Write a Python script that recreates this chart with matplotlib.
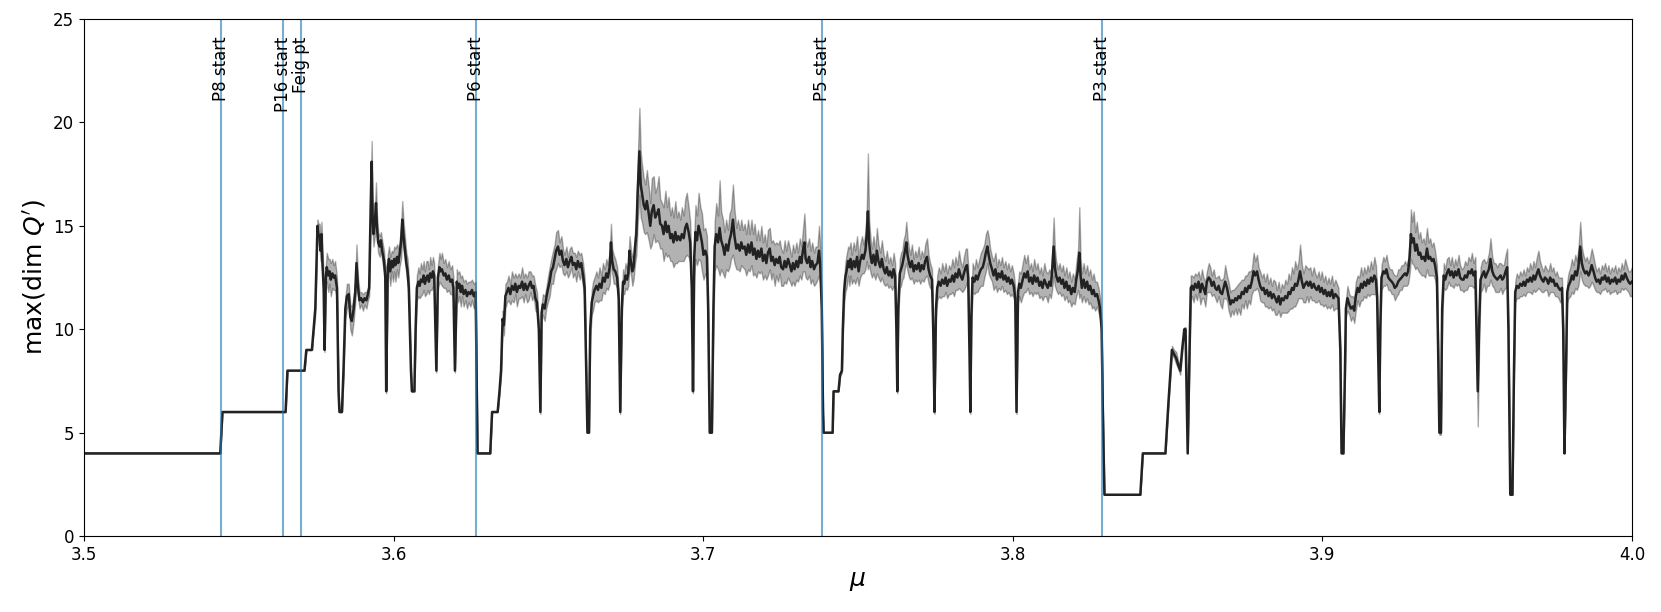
import numpy as np
import matplotlib.pyplot as plt

# - marker lines (window / bifurcation starts)
line_mu = [3.5441, 3.5644, 3.56995, 3.6266, 3.7385, 3.8288]
line_labels = ["P8 start", "P16 start", "Feig pt", "P6 start", "P5 start", "P3 start"]

# - periodic regime before chaos
ord_mu = [3.500, 3.5440, 3.5447, 3.5651, 3.5657, 3.5712, 3.5718, 3.5736]
ord_mean = [4, 4, 6, 6, 8, 8, 9, 9]
ord_sd = [0, 0, 0, 0, 0, 0, 0, 0]

# - first chaotic band, up to the P6 window
ch1_mu = [3.5747, 3.5754, 3.5757, 3.5761, 3.5764, 3.5767, 3.5770, 3.5774, 3.5777, 3.5781,
          3.5784, 3.5789, 3.5793, 3.5797, 3.5802, 3.5806, 3.5811, 3.5817, 3.5822, 3.5825,
          3.5833, 3.5838, 3.5844, 3.5849, 3.5855, 3.5860, 3.5865, 3.5871, 3.5876, 3.5880,
          3.5885, 3.5890, 3.5895, 3.5901, 3.5906, 3.5912, 3.5917, 3.5921, 3.5926, 3.5929,
          3.5932, 3.5935, 3.5940, 3.5943, 3.5946, 3.5950, 3.5955, 3.5959, 3.5963, 3.5969,
          3.5973, 3.5976, 3.5981, 3.5985, 3.5989, 3.5994, 3.5998, 3.6002, 3.6006, 3.6011,
          3.6015, 3.6019, 3.6024, 3.6028, 3.6032, 3.6037, 3.6041, 3.6045, 3.6049, 3.6056,
          3.6059, 3.6067, 3.6071, 3.6075, 3.6080, 3.6084, 3.6088, 3.6093, 3.6097, 3.6101,
          3.6106, 3.6110, 3.6114, 3.6118, 3.6123, 3.6127, 3.6131, 3.6138, 3.6143, 3.6148,
          3.6152, 3.6156, 3.6162, 3.6167, 3.6172, 3.6178, 3.6183, 3.6189, 3.6193, 3.6198,
          3.6204, 3.6208, 3.6212, 3.6217, 3.6221, 3.6226, 3.6232, 3.6237, 3.6242, 3.6248,
          3.6253, 3.6259, 3.6265]
ch1_mean = [11.0, 15.0, 14.6, 14.5, 13.8, 14.6, 13.2, 12.0, 9.0, 12.5,
            13.0, 12.6, 12.8, 12.4, 12.7, 12.5, 12.6, 12.0, 7.0, 6.0,
            6.0, 8.0, 11.0, 11.6, 11.7, 10.6, 10.4, 11.0, 11.8, 13.2,
            12.0, 11.4, 11.5, 11.3, 11.5, 11.4, 11.7, 12.0, 16.0, 18.1,
            15.5, 14.6, 15.3, 16.1, 15.0, 14.2, 14.0, 14.3, 13.8, 13.3,
            12.5, 7.0, 13.0, 13.4, 12.8, 13.3, 13.0, 13.4, 13.1, 13.5,
            13.2, 13.6, 14.2, 15.3, 14.5, 13.8, 13.2, 12.8, 12.0, 8.0,
            7.0, 7.0, 10.0, 12.0, 12.3, 12.1, 12.4, 12.3, 12.6, 12.2,
            12.5, 12.6, 12.3, 12.7, 12.5, 12.8, 12.6, 8.0, 12.5, 13.0,
            12.8, 12.9, 12.6, 12.7, 12.4, 12.6, 12.3, 12.4, 12.0, 8.0,
            12.3, 12.0, 12.2, 11.8, 12.1, 11.7, 11.9, 11.6, 11.8, 11.7,
            11.9, 11.6, 11.8]
ch1_sd = [0.3, 0.3, 0.5, 0.6, 0.5, 0.6, 0.7, 0.6, 0.1, 0.6,
          0.7, 0.8, 0.6, 0.8, 0.7, 0.6, 0.7, 0.5, 0.2, 0.0,
          0.0, 0.3, 0.5, 0.6, 0.5, 0.6, 0.7, 0.6, 0.5, 0.9,
          0.5, 0.4, 0.3, 0.4, 0.3, 0.4, 0.3, 0.4, 0.8, 1.0,
          0.8, 0.6, 0.7, 1.0, 0.6, 0.5, 0.5, 0.4, 0.5, 0.5,
          0.4, 0.1, 0.6, 0.6, 0.7, 0.5, 0.7, 0.6, 0.8, 0.6,
          0.7, 0.6, 0.8, 0.9, 0.7, 0.6, 0.5, 0.6, 0.5, 0.2,
          0.0, 0.0, 0.3, 0.6, 0.7, 0.6, 0.8, 0.6, 0.7, 0.6,
          0.8, 0.7, 0.6, 0.8, 0.6, 0.7, 0.6, 0.1, 0.6, 0.7,
          0.6, 0.8, 0.6, 0.7, 0.6, 0.7, 0.6, 0.7, 0.5, 0.1,
          0.6, 0.7, 0.6, 0.7, 0.5, 0.6, 0.5, 0.6, 0.5, 0.6,
          0.5, 0.6, 0.5]

# - P6 window and following chaos
p6_mu = [3.6271, 3.6312, 3.6318, 3.6336, 3.6342, 3.6347, 3.6352, 3.6356, 3.6361, 3.6366,
         3.6371, 3.6377, 3.6382, 3.6388, 3.6393, 3.6398, 3.6404, 3.6409, 3.6415, 3.6420,
         3.6425, 3.6431, 3.6436, 3.6442, 3.6447, 3.6452, 3.6458, 3.6463, 3.6469, 3.6474,
         3.6478, 3.6482, 3.6488, 3.6493, 3.6498, 3.6504, 3.6509, 3.6515, 3.6520, 3.6525,
         3.6531, 3.6536, 3.6542, 3.6547, 3.6552, 3.6558, 3.6563, 3.6569, 3.6574, 3.6579,
         3.6585, 3.6590, 3.6595, 3.6601, 3.6606, 3.6612, 3.6617, 3.6622, 3.6626, 3.6631,
         3.6635, 3.6640, 3.6644, 3.6649, 3.6655, 3.6660, 3.6665, 3.6671, 3.6676, 3.6682,
         3.6687, 3.6692, 3.6698, 3.6702, 3.6706, 3.6711, 3.6716, 3.6722, 3.6727, 3.6732,
         3.6737, 3.6741, 3.6745, 3.6749, 3.6754, 3.6758, 3.6762, 3.6767, 3.6771, 3.6775,
         3.6780, 3.6784, 3.6788, 3.6794, 3.6798, 3.6802, 3.6808, 3.6813, 3.6818, 3.6824,
         3.6829, 3.6834, 3.6840, 3.6845, 3.6851, 3.6856, 3.6861, 3.6867, 3.6872, 3.6878,
         3.6883, 3.6888, 3.6894, 3.6899, 3.6904, 3.6910, 3.6915, 3.6920, 3.6926, 3.6931,
         3.6937, 3.6942, 3.6947, 3.6953, 3.6958, 3.6963, 3.6967, 3.6971, 3.6975, 3.6980,
         3.6985, 3.6991, 3.6996, 3.7001, 3.7007, 3.7012, 3.7016, 3.7021, 3.7028, 3.7033,
         3.7037, 3.7042, 3.7048, 3.7053, 3.7058, 3.7064, 3.7069, 3.7074, 3.7080, 3.7085,
         3.7090, 3.7096, 3.7101, 3.7107, 3.7112, 3.7118, 3.7123, 3.7128, 3.7134, 3.7139,
         3.7145, 3.7150, 3.7156, 3.7161, 3.7166, 3.7172, 3.7177, 3.7182, 3.7188, 3.7193,
         3.7199, 3.7204, 3.7209, 3.7215, 3.7220, 3.7225, 3.7231, 3.7236, 3.7242, 3.7247,
         3.7252, 3.7258, 3.7263, 3.7268, 3.7274, 3.7280, 3.7285, 3.7290, 3.7295, 3.7301,
         3.7306, 3.7312, 3.7317, 3.7322, 3.7327, 3.7331, 3.7336, 3.7342, 3.7347, 3.7352,
         3.7358, 3.7363, 3.7369, 3.7374, 3.7378, 3.7383, 3.7387]
p6_mean = [4.0, 4.0, 6.0, 6.0, 7.0, 8.0, 10.5, 10.2, 11.6, 11.8,
           12.0, 11.7, 12.1, 11.9, 12.2, 11.8, 12.1, 12.0, 12.3, 11.9,
           12.2, 11.9, 12.1, 12.3, 12.0, 12.1, 11.5, 11.3, 10.0, 6.0,
           10.8, 11.2, 11.0, 11.5, 11.9, 12.3, 12.8, 13.0, 13.4, 13.8,
           14.0, 13.6, 13.8, 13.3, 13.1, 13.4, 13.0, 13.3, 13.5, 13.1,
           13.2, 12.9, 13.3, 13.0, 13.2, 12.6, 12.0, 8.0, 5.0, 5.0,
           10.0, 11.3, 11.6, 11.9, 12.1, 11.9, 12.2, 12.0, 12.5, 12.3,
           12.7, 12.5, 13.0, 14.2, 13.3, 12.9, 12.8, 12.5, 11.5, 6.0,
           11.0, 12.3, 12.2, 12.6, 12.4, 12.7, 13.8, 13.2, 12.8, 13.0,
           14.0, 14.6, 16.5, 18.6, 17.0, 16.6, 16.0, 15.8, 16.2, 15.6,
           15.0, 15.7, 16.0, 15.4, 15.6, 15.8, 15.1, 15.0, 14.6, 15.2,
           14.7, 15.0, 14.4, 14.6, 14.2, 14.7, 14.3, 14.5, 14.3, 14.6,
           14.4, 14.9, 15.1, 14.7, 14.2, 12.0, 7.0, 13.5, 14.7, 14.3,
           15.0, 14.6, 14.2, 13.6, 13.8, 13.5, 11.0, 5.0, 5.0, 11.0,
           14.0, 14.6, 14.2, 14.9, 14.3, 14.0, 13.6, 14.1, 13.8, 14.3,
           14.6, 15.3, 14.5, 13.9, 14.1, 13.8, 14.2, 13.9, 14.0, 13.6,
           14.1, 13.7, 14.2, 13.6, 13.9, 13.4, 13.8, 13.5, 13.9, 13.3,
           13.6, 13.2, 13.7, 13.9, 13.3, 13.5, 13.1, 13.4, 13.2, 13.5,
           13.0, 12.9, 13.3, 13.0, 13.4, 13.1, 12.8, 13.2, 12.9, 13.3,
           13.0, 13.5, 13.2, 13.8, 14.2, 13.4, 13.2, 13.5, 13.0, 13.3,
           12.9, 13.1, 13.2, 13.8, 13.1, 11.0, 6.0]
p6_sd = [0, 0, 0, 0, 0.1, 0.2, 0.4, 0.5, 0.6, 0.5,
         0.6, 0.5, 0.7, 0.6, 0.5, 0.7, 0.6, 0.5, 0.7, 0.6,
         0.5, 0.6, 0.7, 0.5, 0.6, 0.5, 0.6, 0.5, 0.3, 0.1,
         0.4, 0.5, 0.6, 0.5, 0.6, 0.7, 0.6, 0.8, 0.7, 0.9,
         0.8, 0.6, 0.7, 0.6, 0.5, 0.6, 0.5, 0.6, 0.5, 0.6,
         0.5, 0.6, 0.5, 0.6, 0.5, 0.6, 0.5, 0.2, 0.0, 0.0,
         0.4, 0.6, 0.7, 0.6, 0.7, 0.6, 0.8, 0.6, 0.7, 0.6,
         0.7, 0.6, 0.8, 0.9, 0.6, 0.7, 0.6, 0.5, 0.4, 0.1,
         0.5, 0.6, 0.5, 0.6, 0.5, 0.6, 0.7, 0.6, 0.7, 0.6,
         0.8, 1.0, 1.5, 2.1, 1.6, 1.4, 1.3, 1.2, 1.5, 1.3,
         1.1, 1.6, 1.4, 1.2, 1.3, 1.6, 1.2, 1.1, 1.3, 1.5,
         1.2, 1.4, 1.1, 1.3, 1.2, 1.5, 1.1, 1.2, 1.0, 1.3,
         1.1, 1.4, 1.5, 1.2, 1.0, 0.5, 0.1, 1.0, 1.3, 1.2,
         1.6, 1.3, 1.4, 1.2, 1.1, 1.0, 0.5, 0.0, 0.0, 0.6,
         1.2, 1.5, 1.3, 2.3, 1.4, 1.3, 1.1, 1.2, 1.0, 1.3,
         1.2, 1.7, 1.3, 1.0, 1.2, 1.0, 1.1, 0.9, 1.1, 1.0,
         1.2, 0.9, 1.1, 1.0, 1.2, 0.9, 1.0, 0.8, 1.1, 0.9,
         1.0, 0.8, 1.1, 1.0, 0.9, 0.8, 1.0, 0.8, 0.9, 0.8,
         0.9, 0.8, 1.0, 0.8, 0.9, 0.8, 0.7, 0.9, 0.8, 0.9,
         0.7, 0.9, 0.8, 1.0, 1.4, 0.9, 0.8, 0.9, 0.8, 0.9,
         0.8, 0.9, 0.8, 1.2, 0.9, 0.5, 0.2]

# - P5 window and following chaos
p5_mu = [3.7389, 3.7418, 3.7421, 3.7437, 3.7442, 3.7448, 3.7451, 3.7455, 3.7459, 3.7463,
         3.7468, 3.7472, 3.7476, 3.7480, 3.7486, 3.7491, 3.7497, 3.7502, 3.7507, 3.7513,
         3.7518, 3.7524, 3.7528, 3.7532, 3.7536, 3.7541, 3.7545, 3.7550, 3.7556, 3.7561,
         3.7566, 3.7572, 3.7577, 3.7583, 3.7588, 3.7593, 3.7599, 3.7604, 3.7610, 3.7615,
         3.7620, 3.7624, 3.7627, 3.7630, 3.7635, 3.7639, 3.7643, 3.7647, 3.7652, 3.7656,
         3.7660, 3.7665, 3.7669, 3.7674, 3.7680, 3.7685, 3.7690, 3.7696, 3.7701, 3.7706,
         3.7712, 3.7717, 3.7723, 3.7728, 3.7733, 3.7739, 3.7743, 3.7747, 3.7752, 3.7756,
         3.7761, 3.7767, 3.7772, 3.7778, 3.7783, 3.7788, 3.7794, 3.7799, 3.7805, 3.7810,
         3.7815, 3.7821, 3.7826, 3.7831, 3.7837, 3.7842, 3.7848, 3.7852, 3.7856, 3.7860,
         3.7863, 3.7866, 3.7870, 3.7876, 3.7881, 3.7886, 3.7892, 3.7897, 3.7903, 3.7908,
         3.7913, 3.7918, 3.7922, 3.7927, 3.7933, 3.7938, 3.7944, 3.7949, 3.7954, 3.7960,
         3.7965, 3.7970, 3.7976, 3.7981, 3.7986, 3.7992, 3.7997, 3.8003, 3.8008, 3.8012,
         3.8017, 3.8021, 3.8026, 3.8032, 3.8037, 3.8042, 3.8048, 3.8053, 3.8059, 3.8064,
         3.8069, 3.8075, 3.8080, 3.8086, 3.8091, 3.8096, 3.8102, 3.8107, 3.8113, 3.8118,
         3.8123, 3.8127, 3.8132, 3.8136, 3.8140, 3.8146, 3.8151, 3.8157, 3.8162, 3.8167,
         3.8173, 3.8178, 3.8183, 3.8189, 3.8194, 3.8200, 3.8205, 3.8211, 3.8215, 3.8219,
         3.8223, 3.8229, 3.8234, 3.8240, 3.8245, 3.8250, 3.8256, 3.8261, 3.8266, 3.8272,
         3.8277, 3.8282, 3.8287, 3.8291]
p5_mean = [5.0, 5.0, 7.0, 7.0, 7.8, 8.0, 10.0, 11.8, 12.5, 12.8,
           13.3, 13.0, 13.4, 12.9, 13.3, 13.0, 13.5, 12.8, 13.3, 13.6,
           13.4, 13.8, 14.5, 15.7, 14.2, 13.5, 13.2, 13.6, 13.1, 13.8,
           13.3, 13.0, 13.4, 12.9, 12.7, 13.0, 12.6, 12.8, 12.5, 12.9,
           12.6, 10.0, 7.0, 11.0, 12.7, 12.9, 13.1, 13.4, 13.8, 14.2,
           13.6, 13.2, 13.0, 13.3, 12.8, 13.1, 12.9, 13.2, 12.8, 13.1,
           12.9, 13.3, 13.5, 12.9, 12.6, 12.4, 10.0, 6.0, 11.0, 12.0,
           12.3, 12.1, 12.4, 12.2, 12.5, 12.1, 12.4, 12.3, 12.6, 12.3,
           12.7, 12.5, 12.9, 12.6, 12.4, 12.7, 13.0, 13.1, 12.5, 9.0,
           6.0, 10.5, 12.5, 12.3, 12.6, 12.4, 12.7, 12.9, 13.0, 13.3,
           13.7, 14.0, 13.6, 13.2, 12.9, 12.6, 12.9, 12.4, 12.7, 12.5,
           12.8, 12.4, 12.6, 12.3, 12.5, 12.2, 12.4, 12.1, 11.5, 6.0,
           11.8, 12.2, 12.0, 12.4, 12.7, 12.5, 12.8, 12.3, 12.5, 12.2,
           12.6, 12.3, 12.5, 12.1, 12.3, 12.0, 12.4, 12.2, 12.0, 12.3,
           12.1, 12.8, 14.0, 13.0, 12.6, 12.3, 12.5, 12.2, 12.4, 12.0,
           12.3, 11.9, 12.1, 11.7, 12.0, 11.8, 12.4, 12.9, 13.7, 12.6,
           12.0, 12.4, 12.0, 12.3, 11.9, 12.1, 11.7, 11.9, 11.6, 11.7,
           11.4, 11.0, 10.0, 6.0]
p5_sd = [0, 0, 0, 0, 0.1, 0.1, 0.3, 0.6, 0.7, 0.8,
         0.7, 0.9, 0.8, 0.7, 0.9, 0.8, 1.0, 0.7, 0.8, 0.9,
         0.7, 0.9, 1.2, 2.8, 1.1, 0.8, 0.7, 0.9, 0.7, 1.1,
         0.8, 0.7, 0.9, 0.7, 0.6, 0.8, 0.6, 0.7, 0.6, 0.8,
         0.6, 0.3, 0.1, 0.4, 0.7, 0.8, 0.7, 0.9, 0.8, 1.0,
         0.8, 0.7, 0.6, 0.8, 0.6, 0.7, 0.6, 0.8, 0.6, 0.7,
         0.6, 0.8, 0.9, 0.7, 0.6, 0.5, 0.3, 0.1, 0.4, 0.6,
         0.7, 0.6, 0.8, 0.6, 0.7, 0.6, 0.7, 0.6, 0.8, 0.7,
         0.8, 0.6, 0.9, 0.7, 0.6, 0.8, 0.9, 0.8, 0.6, 0.3,
         0.1, 0.4, 0.7, 0.6, 0.8, 0.6, 0.7, 0.8, 0.9, 0.8,
         0.9, 0.8, 0.9, 0.7, 0.6, 0.7, 0.8, 0.6, 0.7, 0.6,
         0.7, 0.6, 0.7, 0.6, 0.7, 0.6, 0.7, 0.6, 0.5, 0.1,
         0.5, 0.6, 0.7, 0.8, 0.9, 0.7, 0.8, 0.6, 0.7, 0.6,
         0.8, 0.6, 0.7, 0.6, 0.7, 0.6, 0.8, 0.6, 0.7, 0.6,
         0.6, 0.9, 1.4, 0.9, 0.7, 0.6, 0.7, 0.6, 0.7, 0.6,
         0.7, 0.6, 0.7, 0.6, 0.7, 0.6, 0.8, 1.0, 2.2, 0.9,
         0.7, 0.8, 0.7, 0.8, 0.7, 0.8, 0.7, 0.8, 0.7, 0.6,
         0.6, 0.5, 0.3, 0.1]

# - P3 window and the rest up to mu = 4
p3_mu = [3.8296, 3.8412, 3.8420, 3.8493, 3.8503, 3.8514, 3.8521, 3.8528, 3.8534, 3.8541,
         3.8547, 3.8554, 3.8558, 3.8565, 3.8571, 3.8575, 3.8579, 3.8584, 3.8589, 3.8595,
         3.8600, 3.8606, 3.8611, 3.8616, 3.8622, 3.8627, 3.8633, 3.8638, 3.8643, 3.8649,
         3.8654, 3.8659, 3.8665, 3.8670, 3.8676, 3.8681, 3.8686, 3.8692, 3.8697, 3.8703,
         3.8708, 3.8713, 3.8719, 3.8724, 3.8729, 3.8735, 3.8740, 3.8746, 3.8751, 3.8756,
         3.8762, 3.8767, 3.8772, 3.8778, 3.8783, 3.8789, 3.8794, 3.8799, 3.8805, 3.8810,
         3.8815, 3.8821, 3.8826, 3.8832, 3.8837, 3.8842, 3.8848, 3.8853, 3.8859, 3.8864,
         3.8869, 3.8875, 3.8880, 3.8886, 3.8891, 3.8896, 3.8902, 3.8907, 3.8912, 3.8918,
         3.8923, 3.8928, 3.8934, 3.8939, 3.8945, 3.8950, 3.8955, 3.8961, 3.8966, 3.8972,
         3.8977, 3.8982, 3.8988, 3.8993, 3.8998, 3.9004, 3.9009, 3.9015, 3.9020, 3.9025,
         3.9031, 3.9036, 3.9042, 3.9047, 3.9052, 3.9058, 3.9062, 3.9068, 3.9073, 3.9076,
         3.9081, 3.9087, 3.9092, 3.9098, 3.9103, 3.9108, 3.9114, 3.9119, 3.9125, 3.9130,
         3.9135, 3.9141, 3.9146, 3.9151, 3.9157, 3.9162, 3.9168, 3.9173, 3.9177, 3.9180,
         3.9184, 3.9187, 3.9191, 3.9197, 3.9202, 3.9207, 3.9213, 3.9218, 3.9224, 3.9229,
         3.9234, 3.9240, 3.9245, 3.9250, 3.9256, 3.9261, 3.9267, 3.9272, 3.9277, 3.9282,
         3.9286, 3.9290, 3.9295, 3.9300, 3.9305, 3.9311, 3.9316, 3.9321, 3.9327, 3.9332,
         3.9338, 3.9343, 3.9348, 3.9354, 3.9359, 3.9364, 3.9370, 3.9374, 3.9378, 3.9383,
         3.9387, 3.9392, 3.9397, 3.9402, 3.9408, 3.9413, 3.9418, 3.9424, 3.9429, 3.9434,
         3.9440, 3.9445, 3.9451, 3.9456, 3.9461, 3.9467, 3.9472, 3.9478, 3.9483, 3.9488,
         3.9494, 3.9498, 3.9502, 3.9507, 3.9511, 3.9516, 3.9522, 3.9527, 3.9532, 3.9538,
         3.9543, 3.9549, 3.9554, 3.9559, 3.9565, 3.9570, 3.9576, 3.9581, 3.9586, 3.9592,
         3.9597, 3.9601, 3.9607, 3.9614, 3.9619, 3.9623, 3.9628, 3.9634, 3.9639, 3.9645,
         3.9650, 3.9655, 3.9661, 3.9666, 3.9671, 3.9677, 3.9682, 3.9687, 3.9693, 3.9698,
         3.9703, 3.9709, 3.9714, 3.9719, 3.9725, 3.9730, 3.9736, 3.9741, 3.9746, 3.9752,
         3.9757, 3.9763, 3.9768, 3.9774, 3.9778, 3.9782, 3.9787, 3.9791, 3.9795, 3.9801,
         3.9806, 3.9811, 3.9817, 3.9822, 3.9827, 3.9833, 3.9838, 3.9843, 3.9849, 3.9854,
         3.9860, 3.9865, 3.9870, 3.9876, 3.9881, 3.9886, 3.9892, 3.9897, 3.9903, 3.9908,
         3.9913, 3.9919, 3.9924, 3.9929, 3.9935, 3.9940, 3.9946, 3.9951, 3.9956, 3.9962,
         3.9967, 3.9972, 3.9978, 3.9983, 3.9989, 3.9994, 4.0000]
p3_mean = [2.0, 2.0, 4.0, 4.0, 6.5, 9.0, 8.8, 8.6, 8.3, 8.0,
           9.0, 10.0, 10.0, 4.0, 9.0, 12.0, 12.1, 11.9, 12.2, 12.0,
           12.3, 11.8, 12.2, 12.0, 11.7, 12.3, 12.5, 12.4, 12.1, 12.3,
           12.0, 11.9, 12.1, 11.8, 11.7, 12.0, 12.3, 12.0, 11.6, 11.2,
           11.4, 11.3, 11.5, 11.4, 11.6, 11.5, 11.8, 11.7, 12.0, 11.8,
           12.1, 12.0, 12.3, 12.8, 12.6, 12.8, 12.4, 12.1, 11.9, 12.0,
           11.7, 11.9, 11.6, 11.8, 11.5, 11.7, 11.5, 11.3, 11.6, 11.2,
           11.5, 11.4, 11.6, 11.5, 11.8, 11.7, 12.0, 11.9, 12.2, 12.1,
           12.4, 12.8, 12.3, 12.0, 12.2, 12.3, 12.1, 12.3, 12.0, 12.2,
           12.0, 11.9, 12.1, 11.8, 12.0, 11.7, 11.9, 11.6, 11.8, 11.6,
           11.9, 11.5, 11.7, 11.6, 11.5, 9.0, 4.0, 4.0, 8.0, 11.0,
           11.5, 11.2, 11.0, 11.1, 10.9, 11.6, 12.0, 11.8, 12.2, 12.0,
           12.3, 12.1, 12.4, 12.2, 12.5, 12.3, 12.6, 12.4, 11.5, 9.0,
           6.0, 10.0, 12.5, 12.8, 12.7, 12.9, 12.5, 12.4, 12.3, 12.2,
           12.0, 12.1, 12.3, 12.4, 12.5, 12.6, 12.7, 12.6, 12.8, 13.5,
           14.6, 14.2, 14.4, 13.8, 14.1, 13.6, 13.7, 13.4, 13.5, 13.3,
           13.9, 13.4, 13.5, 13.3, 13.4, 13.1, 12.5, 9.0, 5.0, 5.0,
           11.0, 12.6, 12.4, 12.7, 12.9, 12.6, 12.8, 12.5, 12.8, 12.6,
           12.9, 12.5, 12.4, 12.4, 12.6, 12.5, 12.8, 12.7, 12.9, 12.6,
           12.8, 10.0, 7.0, 10.5, 12.4, 12.6, 12.8, 12.5, 12.7, 12.9,
           13.4, 12.8, 12.6, 12.5, 12.4, 12.5, 12.6, 12.4, 12.5, 12.8,
           13.0, 10.0, 2.0, 2.0, 8.0, 11.8, 12.1, 12.0, 12.2, 12.1,
           12.3, 12.1, 12.4, 12.3, 12.5, 12.3, 12.6, 12.4, 12.7, 12.9,
           12.6, 12.4, 12.3, 12.5, 12.4, 12.2, 12.5, 12.3, 12.4, 12.1,
           12.2, 12.0, 11.9, 12.0, 10.0, 4.0, 8.0, 11.8, 12.1, 12.3,
           12.6, 12.4, 12.8, 12.6, 13.0, 14.0, 13.2, 12.9, 12.7, 12.8,
           12.6, 12.8, 13.1, 12.8, 12.5, 12.3, 12.4, 12.2, 12.5, 12.4,
           12.6, 12.3, 12.5, 12.2, 12.4, 12.3, 12.5, 12.2, 12.4, 12.3,
           12.6, 12.4, 12.7, 12.5, 12.3, 12.2, 12.3]
p3_sd = [0, 0, 0, 0, 0.1, 0.2, 0.2, 0.3, 0.2, 0.2,
         0.2, 0.1, 0.1, 0.0, 0.3, 0.6, 0.5, 0.6, 0.5, 0.6,
         0.5, 0.6, 0.7, 0.5, 0.6, 0.5, 0.7, 0.6, 0.5, 0.6,
         0.5, 0.6, 0.5, 0.6, 0.7, 0.5, 0.8, 0.6, 0.7, 0.6,
         0.5, 0.6, 0.5, 0.7, 0.6, 0.8, 0.6, 0.7, 0.6, 0.8,
         0.7, 0.8, 0.6, 0.9, 0.7, 0.8, 0.6, 0.7, 0.6, 0.7,
         0.6, 0.8, 0.6, 0.7, 0.6, 0.7, 0.8, 0.6, 0.7, 0.6,
         0.7, 0.6, 0.8, 0.7, 0.9, 0.7, 1.0, 0.8, 1.1, 0.8,
         0.9, 1.3, 0.8, 0.7, 0.9, 0.7, 0.8, 0.7, 0.6, 0.8,
         0.7, 0.6, 0.7, 0.6, 0.8, 0.6, 0.7, 0.6, 0.7, 0.6,
         0.7, 0.6, 0.7, 0.6, 0.5, 0.3, 0.0, 0.0, 0.3, 0.4,
         0.6, 0.5, 0.6, 0.5, 0.6, 0.7, 0.6, 0.7, 0.8, 0.6,
         0.7, 0.6, 0.7, 0.6, 0.8, 0.6, 0.9, 0.7, 0.5, 0.3,
         0.1, 0.4, 0.6, 0.7, 0.6, 0.7, 0.6, 0.5, 0.6, 0.5,
         0.6, 0.5, 0.6, 0.5, 0.6, 0.5, 0.6, 0.5, 0.6, 0.8,
         1.2, 1.0, 1.3, 0.9, 1.1, 0.8, 1.0, 0.8, 0.9, 0.8,
         1.0, 0.8, 0.9, 0.7, 0.8, 0.7, 0.6, 0.3, 0.1, 0.1,
         0.4, 0.6, 0.5, 0.7, 0.6, 0.5, 0.7, 0.5, 0.6, 0.5,
         0.7, 0.6, 0.5, 0.6, 0.7, 0.6, 0.7, 0.6, 0.8, 0.6,
         0.7, 1.0, 1.7, 0.8, 0.6, 0.7, 0.6, 0.7, 0.6, 0.8,
         1.0, 0.7, 0.6, 0.7, 0.6, 0.7, 0.6, 0.7, 0.6, 0.8,
         0.9, 0.3, 0.0, 0.0, 0.3, 0.5, 0.6, 0.5, 0.6, 0.5,
         0.6, 0.5, 0.6, 0.5, 0.7, 0.6, 0.7, 0.6, 0.8, 0.9,
         0.7, 0.6, 0.5, 0.6, 0.5, 0.6, 0.7, 0.5, 0.6, 0.5,
         0.6, 0.5, 0.6, 0.5, 0.3, 0.0, 0.3, 0.5, 0.6, 0.7,
         0.8, 0.7, 0.8, 0.7, 0.9, 1.2, 0.8, 0.7, 0.6, 0.7,
         0.6, 0.7, 0.8, 0.7, 0.6, 0.5, 0.6, 0.5, 0.6, 0.5,
         0.6, 0.5, 0.6, 0.5, 0.6, 0.5, 0.6, 0.5, 0.6, 0.5,
         0.6, 0.5, 0.7, 0.6, 0.5, 0.6, 0.7]

mu = np.concatenate([ord_mu, ch1_mu, p6_mu, p5_mu, p3_mu])
mean = np.concatenate([ord_mean, ch1_mean, p6_mean, p5_mean, p3_mean])
sd = np.concatenate([ord_sd, ch1_sd, p6_sd, p5_sd, p3_sd])
print(len(mu), len(mean), len(sd))

fig, ax = plt.subplots(figsize=(16.61, 6.12), dpi=100)
fig.subplots_adjust(left=0.0506, right=0.9825, top=0.969, bottom=0.124)

ax.fill_between(mu, mean - sd, mean + sd, color="k", alpha=0.3, lw=1)
ax.plot(mu, mean, color="#222222", lw=1.8)

for m, lab in zip(line_mu, line_labels):
    ax.axvline(m, color="tab:blue", alpha=0.6, lw=1.5)
    ax.text(m, 24.15, lab, rotation=90, ha="center", va="top", fontsize=12)

ax.set_xlim(3.5, 4.0)
ax.set_ylim(0, 25)
ax.set_xticks([3.5, 3.6, 3.7, 3.8, 3.9, 4.0])
ax.set_yticks([0, 5, 10, 15, 20, 25])
ax.tick_params(labelsize=12)
ax.set_xlabel(r"$\mu$", fontsize=18)
ax.set_ylabel(r"max(dim $Q'$)", fontsize=18)

fig.savefig("out.png", dpi=100)
